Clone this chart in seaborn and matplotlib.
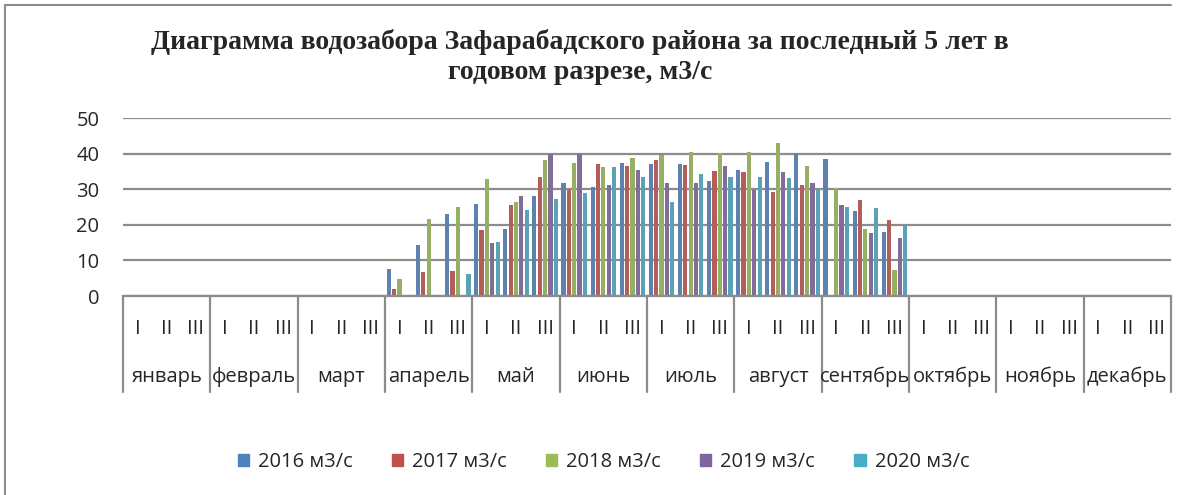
import numpy as np
import pandas as pd
import matplotlib
matplotlib.use("Agg")
import matplotlib.pyplot as plt
import matplotlib.transforms as mtransforms
from matplotlib.lines import Line2D
import seaborn as sns

months = ["январь", "февраль", "март", "апарель", "май", "июнь",
          "июль", "август", "сентябрь", "октябрь", "ноябрь", "декабрь"]
decades = ["I", "II", "III"]
series = ["2016 м3/с", "2017 м3/с", "2018 м3/с", "2019 м3/с", "2020 м3/с"]

# values per decade, January I .. December III
v2016 = [0, 0, 0, 0, 0, 0, 0, 0, 0,
         7.7, 14.2, 22.9, 25.9, 18.7, 28.0, 31.7, 30.6, 37.3,
         37.0, 37.0, 32.4, 35.4, 37.7, 40.2, 38.4, 24.0, 18.1,
         0, 0, 0, 0, 0, 0, 0, 0, 0]
v2017 = [0, 0, 0, 0, 0, 0, 0, 0, 0,
         2.1, 6.7, 6.9, 18.6, 25.5, 33.5, 29.8, 37.0, 36.5,
         38.1, 36.7, 35.1, 34.8, 29.1, 31.3, 0, 26.9, 21.3,
         0, 0, 0, 0, 0, 0, 0, 0, 0]
v2018 = [0, 0, 0, 0, 0, 0, 0, 0, 0,
         4.8, 21.5, 24.9, 32.8, 26.3, 38.1, 37.4, 36.2, 38.7,
         39.7, 40.4, 40.1, 40.4, 42.9, 36.5, 30.4, 18.7, 7.4,
         0, 0, 0, 0, 0, 0, 0, 0, 0]
v2019 = [0, 0, 0, 0, 0, 0, 0, 0, 0,
         0, 0, 0, 14.8, 28.2, 39.9, 39.9, 31.3, 35.4,
         31.8, 31.7, 36.5, 29.9, 34.8, 31.7, 25.5, 17.7, 16.2,
         0, 0, 0, 0, 0, 0, 0, 0, 0]
v2020 = [0, 0, 0, 0, 0, 0, 0, 0, 0,
         0, 0, 6.1, 15.1, 24.2, 27.2, 28.8, 36.2, 33.4,
         26.5, 34.4, 33.4, 33.3, 33.2, 29.9, 25.1, 24.6, 19.8,
         0, 0, 0, 0, 0, 0, 0, 0, 0]

colors = ["#4F81BD", "#C0504D", "#9BBB59", "#8064A2", "#4BACC6"]

cats = [f"{m} {d}" for m in months for d in decades]
rows = []
for name, vals in zip(series, [v2016, v2017, v2018, v2019, v2020]):
    for c, v in zip(cats, vals):
        rows.append({"cat": c, "series": name, "value": v})
df = pd.DataFrame(rows)

sns.set_style("white")
plt.rcParams["font.family"] = ["Open Sans", "DejaVu Sans"]

fig = plt.figure(figsize=(11.81, 4.95), dpi=100)
ax = fig.add_axes([123 / 1181, 1 - 296 / 495, (1171 - 123) / 1181, 178 / 495])

sns.barplot(data=df, x="cat", y="value", hue="series", order=cats,
            hue_order=series, palette=colors, width=0.92, gap=0.22,
            linewidth=0, legend=False, ax=ax)

ax.set_ylim(0, 50)
ax.set_xlim(-0.5, len(cats) - 0.5)
ax.set_yticks(range(0, 51, 10))
ax.yaxis.grid(True, color="#8c8c8c", linewidth=1.6)
ax.set_axisbelow(True)
for s in ["top", "right", "left"]:
    ax.spines[s].set_visible(False)
ax.spines["bottom"].set_color("#8c8c8c")
ax.spines["bottom"].set_linewidth(1.6)
ax.set_xticks([])
ax.set_xlabel("")
ax.set_ylabel("")
ax.tick_params(axis="y", length=0, labelsize=14.5, pad=17)

trans = mtransforms.blended_transform_factory(ax.transData, ax.transAxes)
for i, c in enumerate(cats):
    ax.text(i, -0.185, decades[i % 3], transform=trans, ha="center", va="center",
            fontsize=14.5)
for j, m in enumerate(months):
    ax.text(j * 3 + 1, -0.455, m, transform=trans, ha="center", va="center",
            fontsize=14.5)
for j in range(len(months) + 1):
    ax.add_line(Line2D([j * 3 - 0.5, j * 3 - 0.5], [0, -0.54], transform=trans,
                       color="#8c8c8c", linewidth=1.6, clip_on=False))

# chart area border (top and left)
fig.add_artist(Line2D([5 / 1181, 1171 / 1181], [1 - 5 / 495, 1 - 5 / 495],
                      color="#8c8c8c", linewidth=1.5))
fig.add_artist(Line2D([5 / 1181, 5 / 1181], [0, 1 - 5 / 495],
                      color="#8c8c8c", linewidth=1.5))

fig.text(0.491, 1 - 57 / 495,
         "Диаграмма водозабора Зафарабадского района за последный 5 лет в\nгодовом разрезе, м3/с",
         ha="center", va="center", fontsize=20, fontweight="bold",
         family="Liberation Serif", linespacing=1.28)

handles = [plt.Rectangle((0, 0), 1, 1, color=c) for c in colors]
fig.legend(handles, series, loc="center", bbox_to_anchor=(0.511, 1 - 462 / 495),
           ncol=5, frameon=False, fontsize=14.5, handlelength=0.55, handleheight=0.55,
           columnspacing=1.95, handletextpad=0.45)

fig.savefig("out.png", dpi=100)
